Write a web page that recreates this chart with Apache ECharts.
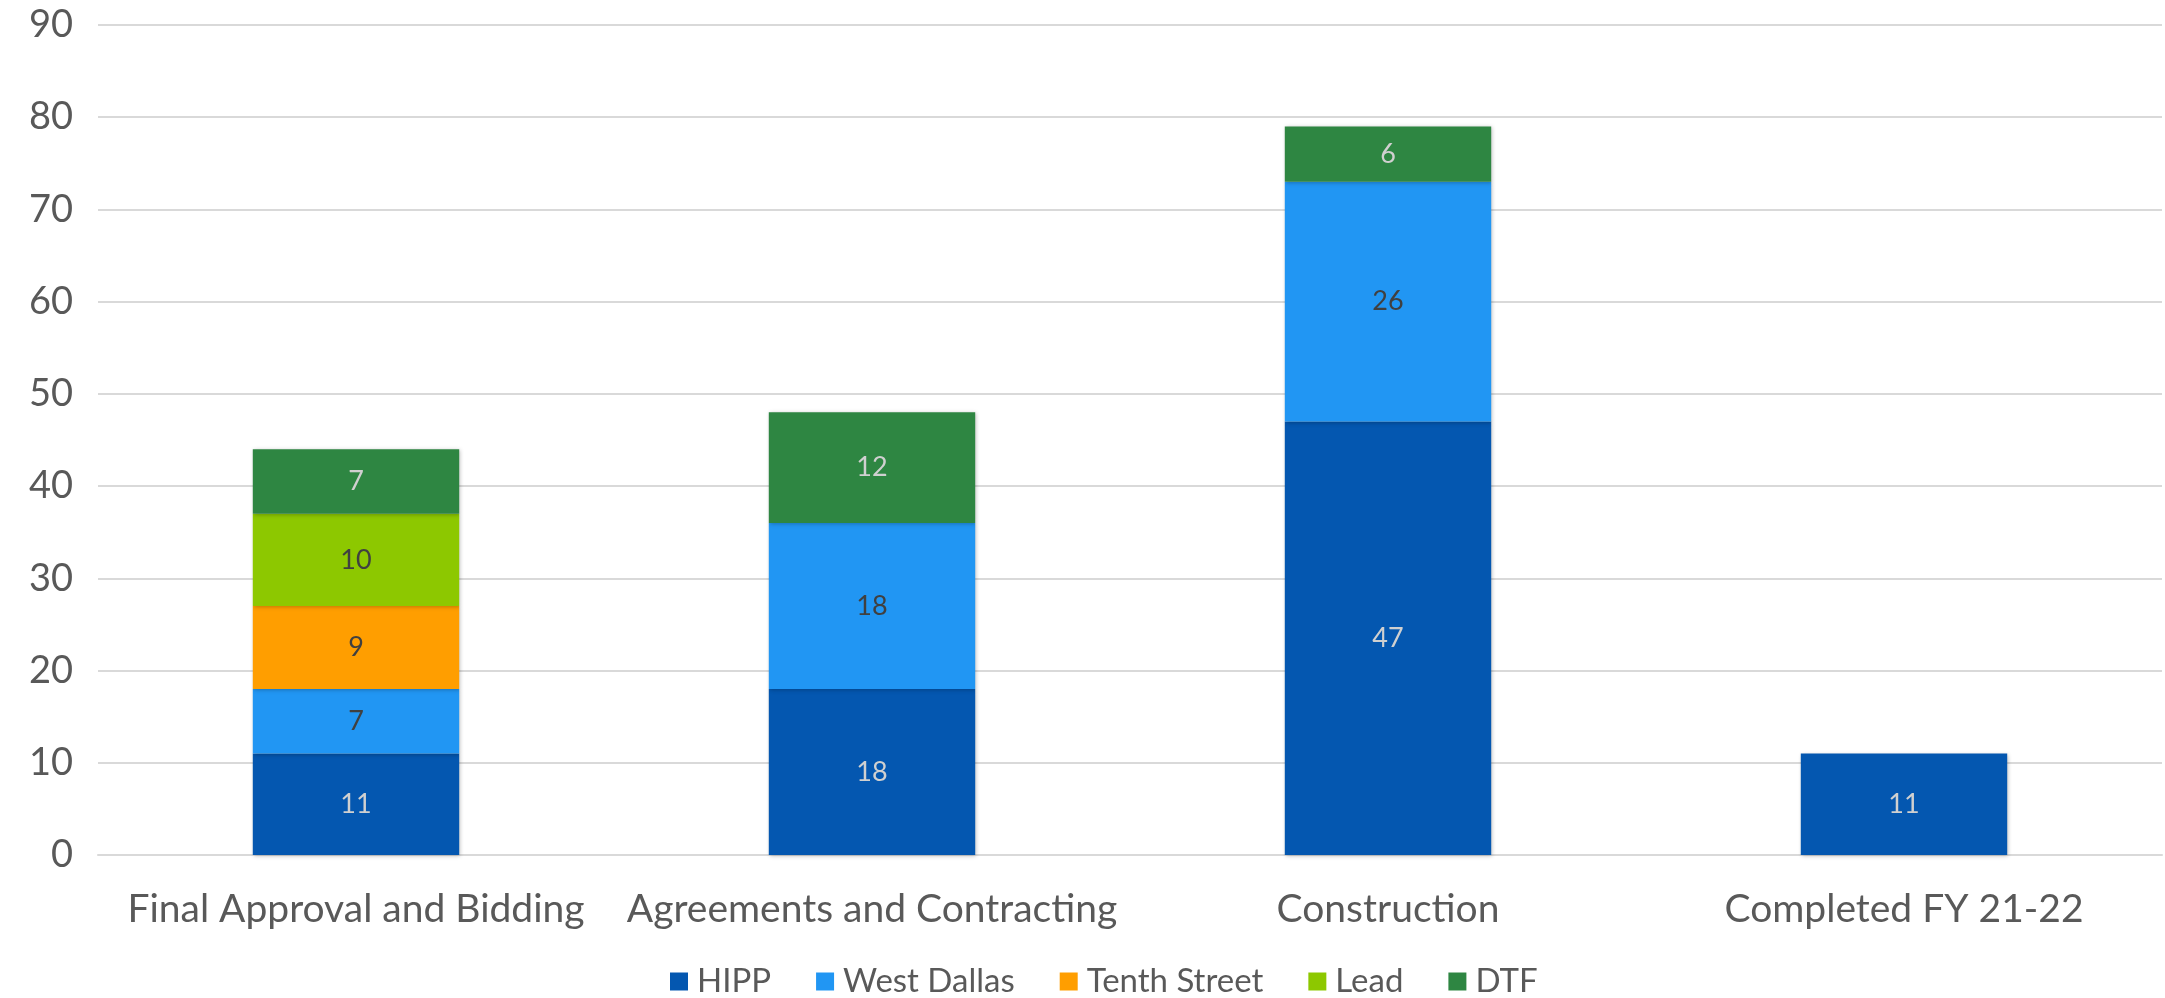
<!DOCTYPE html>
<html>
<head>
<meta charset="utf-8">
<script src="https://cdn.jsdelivr.net/npm/echarts@6/dist/echarts.min.js"></script>
<style>
html,body{margin:0;padding:0;background:#fff;}
#chart{width:2165px;height:998px;}
</style>
</head>
<body>
<div id="chart"></div>
<script>
const categories = ['Final Approval and Bidding', 'Agreements and Contracting', 'Construction', 'Completed FY 21-22'];
const seriesNames = ['HIPP', 'West Dallas', 'Tenth Street', 'Lead', 'DTF'];
const hipp = [11, 18, 47, 11];
const westDallas = [7, 18, 26, null];
const tenthStreet = [9, null, null, null];
const lead = [10, null, null, null];
const dtf = [7, 12, 6, null];
const yTicks = [0, 10, 20, 30, 40, 50, 60, 70, 80, 90];

const colors = ['#0457B0', '#2196F3', '#FF9E00', '#8DC800', '#2E8642'];
const labelColors = ['#D0D0D0', '#404040', '#404040', '#404040', '#D0D0D0'];
const values = [hipp, westDallas, tenthStreet, lead, dtf];
const FONT = 'Lato';

const chart = echarts.init(document.getElementById('chart'), null, {renderer: 'canvas'});
chart.setOption({
  animation: false,
  backgroundColor: '#ffffff',
  textStyle: {fontFamily: FONT},
  grid: {left: 98, right: 3, top: 25, bottom: 143, containLabel: false},
  legend: {
    data: seriesNames,
    top: 960,
    left: 665,
    itemWidth: 18,
    itemHeight: 18,
    itemGap: 45,
    icon: 'rect',
    textStyle: {fontFamily: FONT, fontSize: 33, color: '#595959', padding: [0, 0, 0, 4]}
  },
  xAxis: {
    type: 'category',
    data: categories,
    axisLine: {show: true, lineStyle: {color: '#D9D9D9', width: 2}},
    axisTick: {show: false},
    axisLabel: {fontFamily: FONT, fontSize: 39, color: '#595959', margin: 35, interval: 0}
  },
  yAxis: {
    type: 'value',
    min: yTicks[0],
    max: yTicks[yTicks.length - 1],
    interval: 10,
    axisLine: {show: false},
    axisTick: {show: false},
    splitLine: {lineStyle: {color: '#D9D9D9', width: 2}},
    axisLabel: {fontFamily: FONT, fontSize: 38, color: '#595959', margin: 25}
  },
  series: seriesNames.map((name, i) => ({
    name: name,
    type: 'bar',
    stack: 'total',
    barWidth: '40%',
    data: values[i],
    itemStyle: {
      color: colors[i],
      shadowBlur: 4,
      shadowColor: 'rgba(0,0,0,0.25)',
      shadowOffsetX: 1,
      shadowOffsetY: 1
    },
    label: {
      show: true,
      position: 'inside',
      fontFamily: FONT,
      fontSize: 27,
      color: labelColors[i],
      formatter: p => (p.value == null ? '' : String(p.value))
    }
  }))
});
</script>
</body>
</html>
